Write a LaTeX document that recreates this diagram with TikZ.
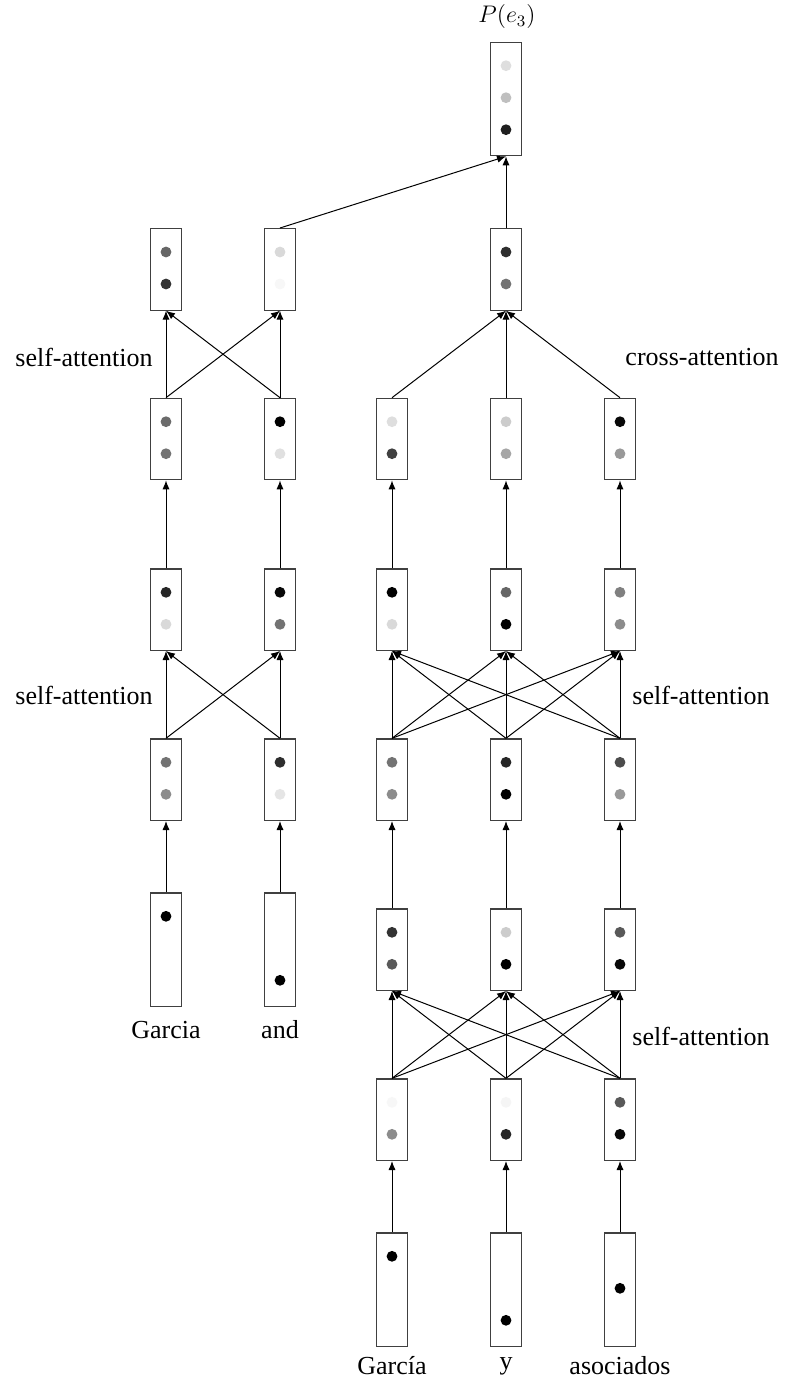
\documentclass[tikz,border=0pt]{standalone}
\usepackage{fontspec}
\setmainfont{Liberation Serif}
\usetikzlibrary{arrows.meta,calc}

% one hidden state: a box with two shaded units
\newcommand\statebox[5]{% name, x, top y, shade of upper unit, shade of lower unit
  \node[vec, anchor=north] (#1) at (#2,#3) {};
  \fill[black!#4] ($(#1.north)+(0,24)$) circle[radius=2.7pt];
  \fill[black!#5] ($(#1.north)+(0,56)$) circle[radius=2.7pt];
}
% one-hot word input: tall box with a single unit at slot offset #4
\newcommand\wordbox[4]{% name, x, top y, offset of the dot
  \node[tallvec, anchor=north] (#1) at (#2,#3) {};
  \fill[black] ($(#1.north)+(0,#4)$) circle[radius=2.7pt];
}

\begin{document}
\begin{tikzpicture}[x=0.5pt, y=-0.5pt,
  vec/.style={draw=black!75, line width=0.6pt, fill=white, minimum width=15.5pt,
              minimum height=40.75pt, inner sep=0pt},
  tallvec/.style={vec, minimum height=56.75pt},
  arr/.style={line width=0.5pt, -{Latex[length=4.5pt,width=3.6pt]}},
  lbl/.style={font=\fontsize{13}{16}\selectfont, inner sep=0pt}]
\useasboundingbox (0,0) rectangle (795,1386);

% ---- output distribution ----
\node[tallvec, anchor=north] (out) at (506,41.7) {};
\fill[black!13] ($(out.north)+(0,24)$) circle[radius=2.7pt];
\fill[black!25] ($(out.north)+(0,56)$) circle[radius=2.7pt];
\fill[black!88] ($(out.north)+(0,88)$) circle[radius=2.7pt];
\node[lbl, font=\fontsize{11.5}{14}\selectfont] (pe) at (507,17) {$P(e_3)$};

% ---- target side (left) ----
\statebox{ta1}{166}{228}{60}{80}
\statebox{ta2}{280}{228}{15}{3}
\statebox{tb1}{166}{397.7}{58}{55}
\statebox{tb2}{280}{397.7}{100}{12}
\statebox{tc1}{166}{568.3}{85}{15}
\statebox{tc2}{280}{568.3}{97}{55}
\statebox{td1}{166}{738.3}{55}{45}
\statebox{td2}{280}{738.3}{82}{10}
\wordbox{tw1}{166}{892.3}{24}
\wordbox{tw2}{280}{892.3}{88}

% ---- source side (right) ----
\statebox{sa2}{506}{228}{82}{55}
\statebox{sb1}{392}{397.7}{13}{75}
\statebox{sb2}{506}{397.7}{20}{35}
\statebox{sb3}{620}{397.7}{97}{40}
\statebox{sc1}{392}{568.3}{100}{15}
\statebox{sc2}{506}{568.3}{60}{100}
\statebox{sc3}{620}{568.3}{50}{45}
\statebox{sd1}{392}{738.3}{55}{45}
\statebox{sd2}{506}{738.3}{85}{100}
\statebox{sd3}{620}{738.3}{70}{40}
\statebox{se1}{392}{908.3}{80}{65}
\statebox{se2}{506}{908.3}{20}{100}
\statebox{se3}{620}{908.3}{65}{97}
\statebox{sf1}{392}{1078.3}{3}{45}
\statebox{sf2}{506}{1078.3}{4}{85}
\statebox{sf3}{620}{1078.3}{65}{97}
\wordbox{sw1}{392}{1232.3}{24}
\wordbox{sw2}{506}{1232.3}{88}
\wordbox{sw3}{620}{1232.3}{56}

% ---- words ----
\node[lbl] (w1) at (166,1030) {Garcia};
\node[lbl] (w2) at (280,1030) {and};
\node[lbl] (w3) at (392,1366) {García};
\node[lbl] (w4) at (506,1366) {y};
\node[lbl] (w5) at (620,1366) {asociados};

% ---- layer names ----
\node[lbl] (l1) at (84,357) {self-attention};
\node[lbl] (l2) at (84,695) {self-attention};
\node[lbl] (l3) at (702,357) {cross-attention};
\node[lbl] (l4) at (701,695) {self-attention};
\node[lbl] (l5) at (701,1036) {self-attention};

% ---- connections: target side ----
\foreach \i in {1,2} {
  \draw[arr] (tw\i.north) -- (td\i.south);
  \draw[arr] (tc\i.north) -- (tb\i.south);
  \foreach \j in {1,2} {
    \draw[arr] (td\i.north) -- (tc\j.south);
    \draw[arr] (tb\i.north) -- (ta\j.south);
  }
}

% ---- connections: source side ----
\foreach \i in {1,2,3} {
  \draw[arr] (sw\i.north) -- (sf\i.south);
  \draw[arr] (se\i.north) -- (sd\i.south);
  \draw[arr] (sc\i.north) -- (sb\i.south);
  \draw[arr] (sb\i.north) -- (sa2.south);
  \foreach \j in {1,2,3} {
    \draw[arr] (sf\i.north) -- (se\j.south);
    \draw[arr] (sd\i.north) -- (sc\j.south);
  }
}

% ---- to the output ----
\draw[arr] (ta2.north) -- (out.south);
\draw[arr] (sa2.north) -- (out.south);
\end{tikzpicture}
\end{document}
